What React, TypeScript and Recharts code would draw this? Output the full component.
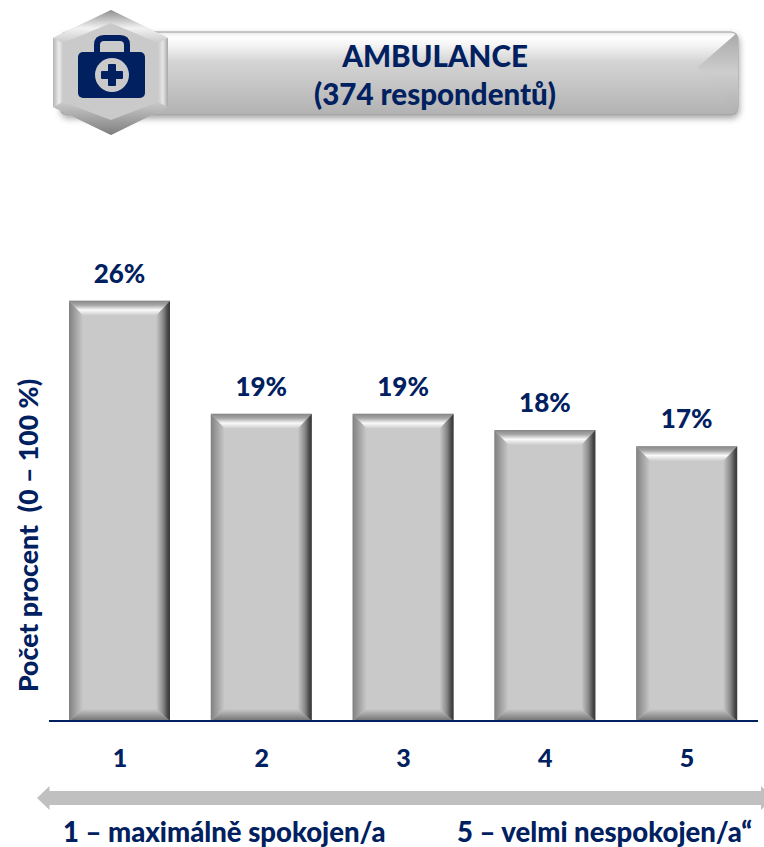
import { Bar, BarChart, LabelList, XAxis, YAxis } from 'recharts';

const categories = ['1', '2', '3', '4', '5'];
const shares = [26, 19, 19, 18, 17];

const navy = '#002060';
const fontFamily = 'Lato, "Open Sans", sans-serif';
const heavy = 900;
const rows = categories.map((category, i) => ({ category, share: shares[i] }));

// Gradient definitions for the bevelled bar faces
function Gradients() {
  return (
    <defs>
      <linearGradient id="bevelTop" x1="0" x2="0" y1="0" y2="1">
        <stop offset="0%" stopColor="#858585" />
        <stop offset="30%" stopColor="#a8a8a8" />
        <stop offset="62%" stopColor="#fafafa" />
        <stop offset="100%" stopColor="#c9c9c9" />
      </linearGradient>
      <linearGradient id="bevelBottom" x1="0" x2="0" y1="0" y2="1">
        <stop offset="0%" stopColor="#c9c9c9" />
        <stop offset="100%" stopColor="#707070" />
      </linearGradient>
      <linearGradient id="bevelLeft" x1="0" x2="1" y1="0" y2="0">
        <stop offset="0%" stopColor="#808080" />
        <stop offset="100%" stopColor="#c9c9c9" />
      </linearGradient>
      <linearGradient id="bevelRight" x1="0" x2="1" y1="0" y2="0">
        <stop offset="0%" stopColor="#c9c9c9" />
        <stop offset="50%" stopColor="#8a8a8a" />
        <stop offset="85%" stopColor="#454545" />
        <stop offset="100%" stopColor="#3a3a3a" />
      </linearGradient>
    </defs>
  );
}

function BevelBar({ x, y, width, height }: any) {
  const side = 14;
  const top = 15;
  const bottom = 12;
  const r = x + width;
  const b = y + height;
  return (
    <g>
      <rect x={x} y={y} width={width} height={height} fill="#c9c9c9" />
      <polygon points={`${x},${y} ${r},${y} ${r - side},${y + top} ${x + side},${y + top}`} fill="url(#bevelTop)" />
      <polygon points={`${x},${b} ${r},${b} ${r - side},${b - bottom} ${x + side},${b - bottom}`} fill="url(#bevelBottom)" />
      <polygon points={`${x},${y} ${x + side},${y + top} ${x + side},${b - bottom} ${x},${b}`} fill="url(#bevelLeft)" />
      <polygon points={`${r},${y} ${r - side},${y + top} ${r - side},${b - bottom} ${r},${b}`} fill="url(#bevelRight)" />
    </g>
  );
}

function Header() {
  return (
    <g>
      <defs>
        <linearGradient id="bannerFace" x1="0" x2="0" y1="0" y2="1">
          <stop offset="0%" stopColor="#e8e8e8" />
          <stop offset="6%" stopColor="#ffffff" />
          <stop offset="16%" stopColor="#f4f4f4" />
          <stop offset="36%" stopColor="#d4d4d4" />
          <stop offset="100%" stopColor="#b2b2b2" />
        </linearGradient>
        <linearGradient id="bannerEnd" x1="0" x2="0" y1="0" y2="1">
          <stop offset="0%" stopColor="#a8a8a8" />
          <stop offset="48%" stopColor="#cdcdcd" />
          <stop offset="100%" stopColor="#b0b0b0" />
        </linearGradient>
        <linearGradient id="hexTop" x1="0" x2="0" y1="0" y2="1">
          <stop offset="0%" stopColor="#8f8f8f" />
          <stop offset="55%" stopColor="#f2f2f2" />
          <stop offset="100%" stopColor="#cacaca" />
        </linearGradient>
        <linearGradient id="hexBottom" x1="0" x2="0" y1="0" y2="1">
          <stop offset="0%" stopColor="#cacaca" />
          <stop offset="100%" stopColor="#7e7e7e" />
        </linearGradient>
        <linearGradient id="hexLeft" x1="0" x2="1" y1="0" y2="0">
          <stop offset="0%" stopColor="#b4b4b4" />
          <stop offset="60%" stopColor="#ececec" />
          <stop offset="100%" stopColor="#cacaca" />
        </linearGradient>
        <linearGradient id="hexRight" x1="0" x2="1" y1="0" y2="0">
          <stop offset="0%" stopColor="#cacaca" />
          <stop offset="50%" stopColor="#e6e6e6" />
          <stop offset="100%" stopColor="#a6a6a6" />
        </linearGradient>
        <filter id="bannerShadow" x="-5%" y="-20%" width="110%" height="150%">
          <feDropShadow dx="1" dy="3" stdDeviation="3" floodColor="#000000" floodOpacity="0.35" />
        </filter>
        <clipPath id="bannerClip">
          <rect x="60" y="32" width="678" height="83" rx="7" />
        </clipPath>
      </defs>

      <rect x="60" y="32" width="678" height="83" rx="7" fill="url(#bannerFace)" stroke="#9a9a9a" strokeWidth="1" filter="url(#bannerShadow)" />
      <polygon points="738,32 698,67 738,115" fill="url(#bannerEnd)" clipPath="url(#bannerClip)" />
      <text x="435" y="67" textAnchor="middle" fontFamily={fontFamily} fontWeight={heavy} fontSize="29.5" fill={navy}>AMBULANCE</text>
      <text x="435" y="105" textAnchor="middle" fontFamily={fontFamily} fontWeight={heavy} fontSize="29.5" fill={navy}>(374 respondentů)</text>

      <polygon points="111,10 168,38 168,107 111,135 53,107 53,38" fill="#cacaca" />
      <polygon points="111,10 168,38 158,43 111,23 63,43 53,38" fill="url(#hexTop)" />
      <polygon points="63,102 111,120 158,102 168,107 111,135 53,107" fill="url(#hexBottom)" />
      <polygon points="53,38 63,43 63,102 53,107" fill="url(#hexLeft)" />
      <polygon points="168,38 158,43 158,102 168,107" fill="url(#hexRight)" />

      <path d="M97 52 V45 Q97 38 104 38 H120 Q127 38 127 45 V52" fill="none" stroke={navy} strokeWidth="6" />
      <rect x="78" y="52" width="67" height="46" rx="5" fill={navy} />
      <circle cx="112" cy="75" r="17" fill="#cacaca" />
      <rect x="101" y="71" width="22" height="8" rx="1" fill={navy} />
      <rect x="108" y="64" width="8" height="22" rx="1" fill={navy} />
    </g>
  );
}

// Double-headed scale arrow and the two captions under the axis
function ScaleNote() {
  return (
    <g>
      <polygon points="37,798 49.5,786 49.5,791 761,791 761,786 773,798 761,810 761,805 49.5,805 49.5,810" fill="#c0c0c0" />
      <text x="63" y="842" fontFamily={fontFamily} fontWeight={heavy} fontSize="27.5" fill={navy}>1 – maximálně spokojen/a</text>
      <text x="457" y="842" fontFamily={fontFamily} fontWeight={heavy} fontSize="27.5" fill={navy}>5 – velmi nespokojen/a“</text>
    </g>
  );
}

export default function App() {
  return (
    <div style={{ position: 'absolute', left: 0, top: 0, width: 764, height: 847, overflow: 'hidden', background: '#ffffff' }}>
      <svg width={764} height={847} style={{ position: 'absolute', left: 0, top: 0 }}>
        <Header />
        <ScaleNote />
      </svg>
      <div style={{ position: 'absolute', left: 0, top: 0 }}>
        <BarChart
          width={764}
          height={847}
          data={rows}
          margin={{ top: 236, right: 6, bottom: 0, left: 0 }}
          barSize={101}
        >
          <Gradients />
          <XAxis
            dataKey="category"
            height={126}
            tickLine={false}
            interval={0}
            axisLine={{ stroke: navy, strokeWidth: 2 }}
            tick={{ fill: navy, fontSize: 25, fontWeight: heavy, fontFamily }}
            tickMargin={22}
          />
          <YAxis
            width={49}
            domain={[0, 30]}
            tick={false}
            tickLine={false}
            axisLine={false}
            label={{
              value: 'Počet procent\u00a0\u00a0(0 – 100 %)',
              angle: -90,
              position: 'insideLeft',
              dx: 24,
              dy: 57,
              fill: navy,
              fontSize: 26.7,
              fontWeight: heavy,
              fontFamily,
              textAnchor: 'middle',
            }}
          />
          <Bar dataKey="share" shape={<BevelBar />} isAnimationActive={false}>
            <LabelList
              dataKey="share"
              position="top"
              offset={18}
              formatter={(v: number) => `${v}%`}
              fill={navy}
              fontSize={26}
              fontWeight={heavy}
              fontFamily={fontFamily}
            />
          </Bar>
        </BarChart>
      </div>
    </div>
  );
}
